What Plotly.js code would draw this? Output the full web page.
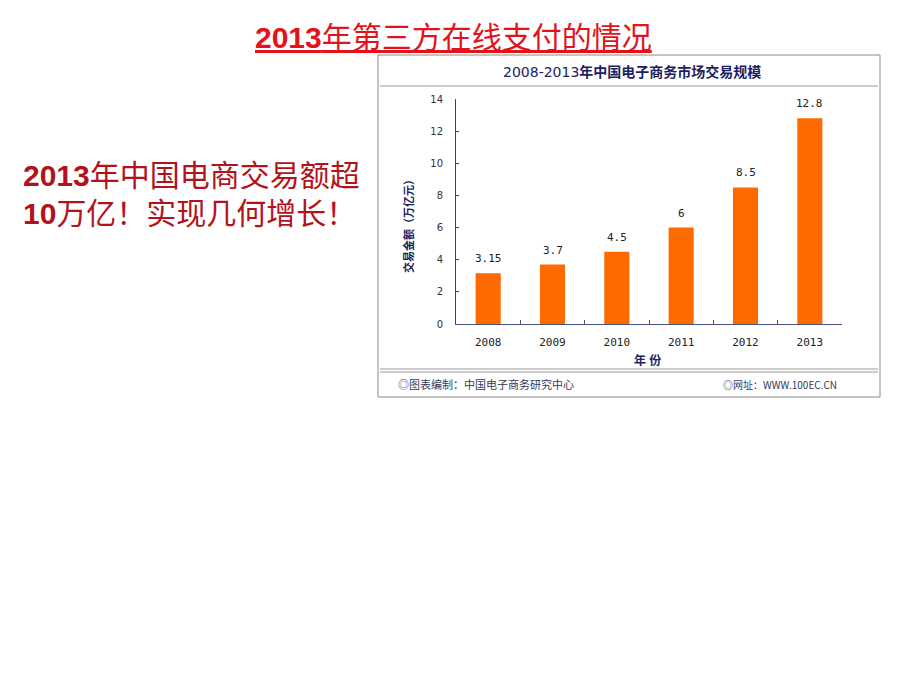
<!DOCTYPE html>
<html>
<head>
<meta charset="utf-8">
<script src="https://cdn.plot.ly/plotly-3.0.1.min.js"></script>
<style>html,body{margin:0;padding:0;background:#fff;}#chart{width:920px;height:690px;}</style>
</head>
<body>
<div id="chart"></div>
<script>
// ---- data ----
const years = ['2008', '2009', '2010', '2011', '2012', '2013'];
const values = [3.15, 3.7, 4.5, 6, 8.5, 12.8];
const valueLabels = ['3.15', '3.7', '4.5', '6', '8.5', '12.8'];
const yTicks = [0, 2, 4, 6, 8, 10, 12, 14];

const slideTitle = '<u><b>2013</b>年第三方在线支付的情况</u>';
const sideLine1 = '<b>2013</b>年中国电商交易额超';
const sideLine2 = '<b>10</b>万亿！实现几何增长！';
const chartTitle = '2008-2013<b>年中国电子商务市场交易规模</b>';
const yTitle = '<b>交易金额（万亿元）</b>';
const xTitle = '<b>年 份</b>';
const footerLeft = '◎图表编制：中国电子商务研究中心';
const footerRight = '◎网址：WWW.100EC.CN';

// ---- helpers (pixel -> paper) ----
const W = 920, H = 690;
const px = x => x / W;
const py = y => 1 - y / H;

const cjk = '"Liberation Sans", "Noto Sans CJK SC", sans-serif';
const mono = '"DejaVu Sans Mono", "Noto Sans CJK SC", monospace';
const navy = '#1c2260';

const trace = {
  type: 'bar',
  x: years,
  y: values,
  width: 0.39,
  marker: {color: '#ff6a00', line: {width: 0}},
  hoverinfo: 'skip'
};

// value labels placed on the category axis by index
const valueAnns = years.map((yr, i) => ({
  x: i, y: values[i], xref: 'x', yref: 'y',
  text: valueLabels[i], showarrow: false,
  yanchor: 'bottom', yshift: 6,
  font: {family: mono, size: 11, color: '#222'}
}));

const layout = {
  width: W, height: H, autosize: false,
  margin: {l: 0, r: 0, t: 0, b: 0},
  paper_bgcolor: '#fff', plot_bgcolor: 'rgba(0,0,0,0)',
  showlegend: false,
  xaxis: {
    domain: [px(456), px(842)],
    anchor: 'y',
    type: 'category',
    range: [-0.5, 5.5],
    showgrid: false, zeroline: false,
    showline: true, linecolor: '#4a5282', linewidth: 1,
    ticks: 'inside', ticklen: 4, tickcolor: '#4a5282', tickson: 'boundaries',
    tickfont: {family: mono, size: 11, color: '#222'},
    ticklabelstandoff: 8,
    fixedrange: true
  },
  yaxis: {
    domain: [py(324), py(99)],
    anchor: 'x',
    range: [0, 14],
    tickvals: yTicks,
    showgrid: false, zeroline: false,
    showline: true, linecolor: '#444', linewidth: 1,
    ticks: 'inside', ticklen: 3, tickcolor: '#444',
    tickfont: {family: '"DejaVu Sans", sans-serif', size: 10, color: '#333'},
    ticklabelstandoff: 10,
    fixedrange: true
  },
  shapes: [
    {type: 'rect', xref: 'paper', yref: 'paper', x0: px(378), x1: px(880), y0: py(55), y1: py(397),
      line: {color: '#8a8a8a', width: 1}},
    {type: 'line', xref: 'paper', yref: 'paper', x0: px(380), x1: px(878), y0: py(86), y1: py(86),
      line: {color: '#9a9a9a', width: 1}},
    {type: 'line', xref: 'paper', yref: 'paper', x0: px(380), x1: px(878), y0: py(369), y1: py(369),
      line: {color: '#9a9a9a', width: 1}},
    {type: 'line', xref: 'paper', yref: 'paper', x0: px(380), x1: px(878), y0: py(372), y1: py(372),
      line: {color: '#9a9a9a', width: 1}}
  ],
  annotations: [
    {text: slideTitle, xref: 'paper', yref: 'paper', x: px(453), y: py(38),
      xanchor: 'center', yanchor: 'middle', showarrow: false,
      font: {family: cjk, size: 30, color: '#e3121b'}},
    {text: sideLine1, xref: 'paper', yref: 'paper', x: px(21), y: py(175),
      xanchor: 'left', yanchor: 'middle', showarrow: false,
      font: {family: cjk, size: 30, color: '#b4121b'}},
    {text: sideLine2, xref: 'paper', yref: 'paper', x: px(21), y: py(213),
      xanchor: 'left', yanchor: 'middle', showarrow: false,
      font: {family: cjk, size: 30, color: '#b4121b'}},
    {text: chartTitle, xref: 'paper', yref: 'paper', x: px(632), y: py(72),
      xanchor: 'center', yanchor: 'middle', showarrow: false,
      font: {family: '"DejaVu Sans", "Noto Sans CJK SC", sans-serif', size: 14, color: navy}},
    {text: yTitle, xref: 'paper', yref: 'paper', x: px(409), y: py(224),
      xanchor: 'center', yanchor: 'middle', showarrow: false, textangle: -90,
      font: {family: cjk, size: 11, color: navy}},
    {text: xTitle, xref: 'paper', yref: 'paper', x: px(647), y: py(360),
      xanchor: 'center', yanchor: 'middle', showarrow: false,
      font: {family: cjk, size: 12, color: navy}},
    {text: footerLeft, xref: 'paper', yref: 'paper', x: px(396), y: py(384),
      xanchor: 'left', yanchor: 'middle', showarrow: false,
      font: {family: cjk, size: 11, color: '#333a5c'}},
    {text: footerRight, xref: 'paper', yref: 'paper', x: px(721), y: py(384),
      xanchor: 'left', yanchor: 'middle', showarrow: false,
      font: {family: '"Noto Sans CJK SC", monospace', size: 10, color: '#333a5c'}}
  ].concat(valueAnns)
};

Plotly.newPlot('chart', [trace], layout, {staticPlot: true, displayModeBar: false});
</script>
</body>
</html>
